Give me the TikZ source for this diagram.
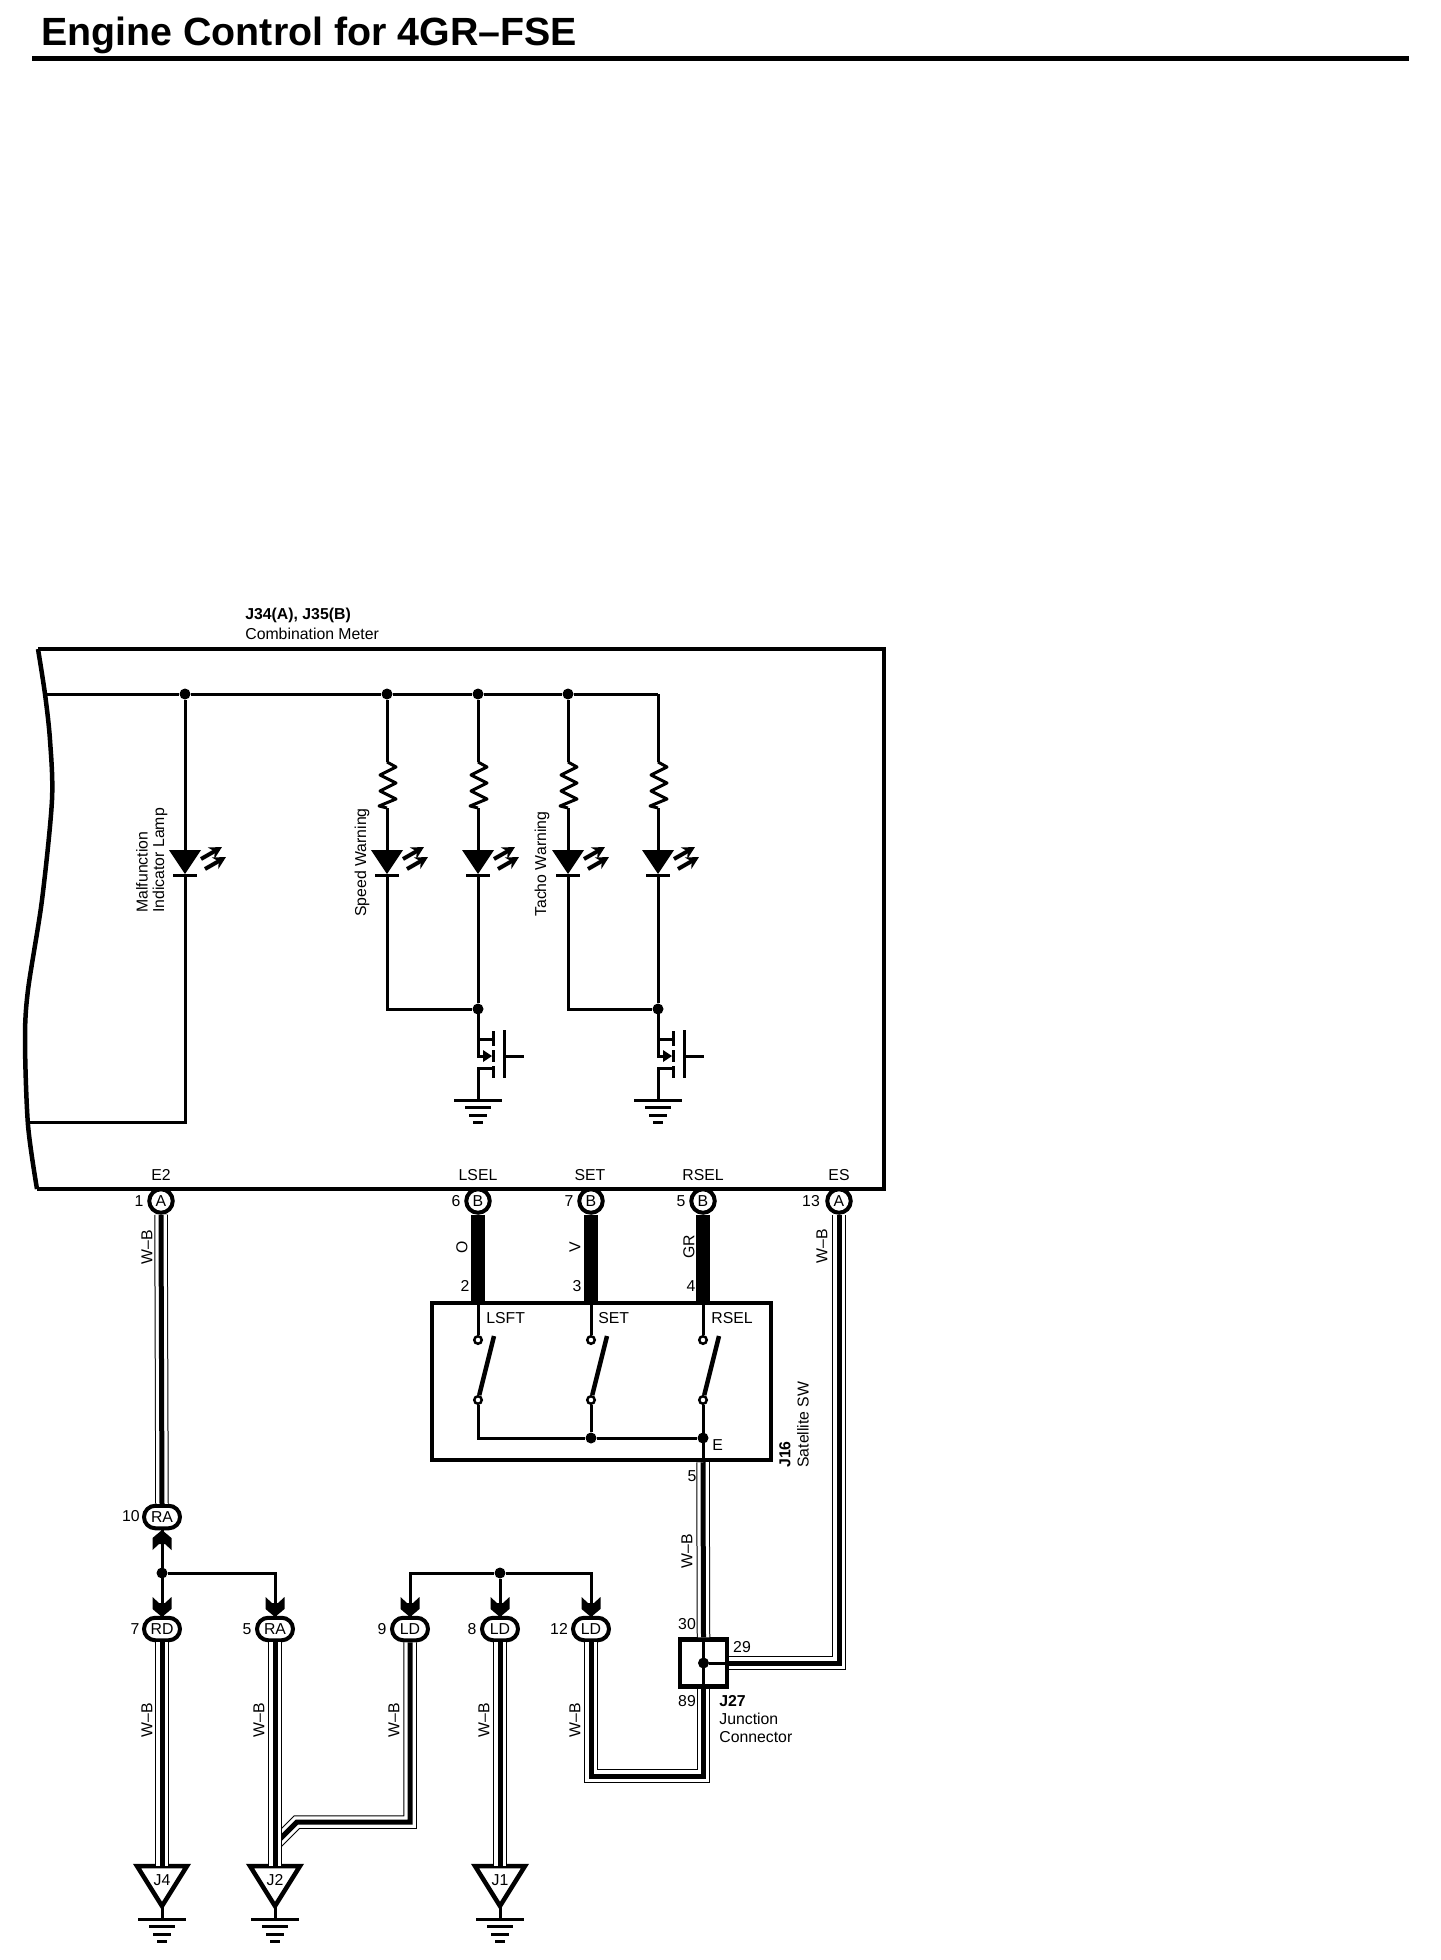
\documentclass[tikz,border=0pt]{standalone}
\usepackage{fontspec}
\setmainfont{Liberation Sans}
\usetikzlibrary{calc}
\usetikzlibrary{arrows.meta}
\usetikzlibrary{shapes.misc}

\tikzset{
    lbl/.style={font=\fontsize{9}{10}\selectfont, inner sep=0pt},
    blbl/.style={lbl, font=\fontsize{9}{10}\selectfont\bfseries},
    vlbl/.style={lbl, rotate=90},
    line/.style={line width=0.06cm},
    boxline/.style={line width=0.09cm},
    solidwire/.style={line width=0.28cm},
    wire/.style={line width=0.1cm,
        preaction={draw, line width=0.27cm, black},
        preaction={draw, line width=0.23cm, white}},
    dot/.style={circle, fill, inner sep=0pt, minimum size=0.22cm},
    term/.style={circle, draw, fill=white, line width=0.05cm, inner sep=0pt, minimum size=0.15cm},
    pinround/.style={lbl, circle, draw, line width=0.08cm, fill=white, minimum size=0.47cm},
    pinoval/.style={lbl, rounded rectangle, draw, line width=0.08cm, fill=white, minimum width=0.72cm, minimum height=0.45cm},
    led/.pic={
        \coordinate (-in) at (0, 0);
        \coordinate (-out) at (0, 25);
        \fill (-16, 0) -- (16, 0) -- (0, 24) -- cycle;
        \draw[line width=0.06cm] (-12, 25) -- (12, 25);
        \draw[line width=0.08cm, -{Stealth[length=0.25cm, width=0.26cm]}] (16, 9) -- (37, -3);
        \draw[line width=0.08cm, -{Stealth[length=0.25cm, width=0.26cm]}] (20, 19) -- (41, 7);
    },
    res/.pic={
        \coordinate (-in) at (0, 0);
        \coordinate (-out) at (0, 46);
        \draw[line, line join=round] (-in) -- (9, 5) -- (-7, 13) -- (9, 21) -- (-7, 29) -- (9, 37) -- (-8, 44) -- (-out);
    },
    fet/.pic={
        \coordinate (-in) at (0, 0);
        \coordinate (-out) at (0, 91);
        \draw[line] (-in) -- (0, 47) -- (8, 47);
        \draw[line] (0, 30) -- (15, 30);
        \draw[line] (15, 59) -- (0, 59) -- (-out);
        \fill (5, 41) -- (14, 47) -- (5, 53) -- cycle;
        \draw[line] (15, 22) -- (15, 37);
        \draw[line] (15, 41) -- (15, 53);
        \draw[line] (15, 57) -- (15, 69);
        \draw[line] (26, 21) -- (26, 69);
        \draw[line] (26, 47) -- (46, 47);
    },
    gnd/.pic={
        \draw[line width=0.06cm] (-24, 0) -- (24, 0);
        \draw[line width=0.06cm] (-13, 7.5) -- (13, 7.5);
        \draw[line width=0.06cm] (-9, 15) -- (9, 15);
        \draw[line width=0.06cm] (-5, 22.5) -- (5, 22.5);
    },
    chevron/.pic={
        \fill (0, 0) -- (9.5, -8) -- (9.5, -20) -- (3, -14) -- (-3, -14) -- (-9.5, -20) -- (-9.5, -8) -- cycle;
    },
    earth/.pic={
        \coordinate (-top) at (0, 0);
        \coordinate (-bot) at (0, 40);
        \draw[boxline] (-25, 0) -- (25, 0) -- (0, 40) -- cycle;
    },
}

\begin{document}
\begin{tikzpicture}[x=0.02cm, y=-0.02cm]

    \useasboundingbox (0, 0) rectangle (1440, 1960);

    % heading
    \node[anchor=base west, inner sep=0pt, font=\fontsize{22.4}{24}\selectfont\bfseries] (title) at (41, 46) {Engine Control for 4GR--FSE};
    \draw[line width=0.1cm] (32, 59) -- (1409, 59);

    % combination meter
    \draw[boxline] (38, 649) -- (884, 649) -- (884, 1189) -- (37, 1189);
    \draw[boxline] plot[smooth] coordinates {(37, 1189) (28, 1125) (25, 1040) (28, 990) (42, 900) (52, 800) (50, 740) (45, 694) (38, 649)};
    \node[blbl, anchor=west] (meterid) at (245, 615) {J34(A), J35(B)};
    \node[lbl, anchor=west] (metername) at (245, 634) {Combination Meter};

    \coordinate (busl) at (46, 694);
    \coordinate (busr) at (658, 694);
    \node[dot] (bus0) at (185, 694) {};
    \node[dot] (bus1) at (387, 694) {};
    \node[dot] (bus2) at (478, 694) {};
    \node[dot] (bus3) at (568, 694) {};
    \draw[line] (busl) -- (bus0) -- (bus1) -- (bus2) -- (bus3) -- (busr);

    \pic (led0) at (185, 850) {led};
    \coordinate (lamp) at (185, 1122);
    \coordinate (lampl) at (29, 1122);
    \draw[line] (bus0) -- (led0-in);
    \draw[line] (led0-out) -- (lamp) -- (lampl);

    \foreach \xx/\nn/\tt in {387/1/bus1, 478/2/bus2, 568/3/bus3, 658/4/busr} {
        \pic (res\nn) at (\xx, 762) {res};
        \pic (led\nn) at (\xx, 850) {led};
        \draw[line] (\tt) -- (res\nn-in);
        \draw[line] (res\nn-out) -- (led\nn-in);
    }

    \coordinate (tie1) at (387, 1009);
    \node[dot] (fet1top) at (478, 1009) {};
    \coordinate (tie2) at (568, 1009);
    \node[dot] (fet2top) at (658, 1009) {};
    \draw[line] (led1-out) -- (tie1) -- (fet1top);
    \draw[line] (led2-out) -- (fet1top);
    \draw[line] (led3-out) -- (tie2) -- (fet2top);
    \draw[line] (led4-out) -- (fet2top);

    \pic (fet1) at (478, 1009) {fet};
    \pic (fet2) at (658, 1009) {fet};
    \pic at (478, 1100) {gnd};
    \pic at (658, 1100) {gnd};

    \node[vlbl, anchor=west] (lamp1) at (142, 913) {Malfunction};
    \node[vlbl, anchor=west] (lamp2) at (160, 913) {Indicator Lamp};
    \node[vlbl, anchor=west] (speed) at (362, 917) {Speed Warning};
    \node[vlbl, anchor=west] (tacho) at (542, 917) {Tacho Warning};

    % connectors on the meter
    \node[lbl] (e2) at (161, 1175) {E2};
    \node[lbl] (lsel) at (478, 1175) {LSEL};
    \node[lbl] (set) at (590, 1175) {SET};
    \node[lbl] (rsel) at (703, 1175) {RSEL};
    \node[lbl] (es) at (839, 1175) {ES};

    \node[pinround] (pin1) at (161, 1201) {A};
    \node[pinround] (pin6) at (478, 1201) {B};
    \node[pinround] (pin7) at (591, 1201) {B};
    \node[pinround] (pin5) at (703, 1201) {B};
    \node[pinround] (pin13) at (839, 1201) {A};

    \node[lbl] (n1) at (139, 1201) {1};
    \node[lbl] (n6) at (456, 1201) {6};
    \node[lbl] (n7) at (569, 1201) {7};
    \node[lbl] (n5) at (681, 1201) {5};
    \node[lbl] (n13) at (811, 1201) {13};

    % satellite switch
    \node[draw, boxline, minimum width=6.78cm, minimum height=3.14cm, inner sep=0pt] (j16) at (601.5, 1381.5) {};
    \node[blbl, vlbl, font=\fontsize{9}{10}\selectfont\bfseries, anchor=west] (j16id) at (785, 1468) {J16};
    \node[vlbl, anchor=west] (j16name) at (803, 1468) {Satellite SW};

    \draw[solidwire] (pin6.south) -- (pin6.south |- j16.north);
    \draw[solidwire] (pin7.south) -- (pin7.south |- j16.north);
    \draw[solidwire] (pin5.south) -- (pin5.south |- j16.north);
    \node[vlbl] (co) at (462, 1247) {O};
    \node[vlbl] (cv) at (575, 1247) {V};
    \node[vlbl] (cgr) at (689, 1247) {GR};
    \node[lbl] (n2) at (465, 1286) {2};
    \node[lbl] (n3) at (577, 1286) {3};
    \node[lbl] (n4) at (691, 1286) {4};

    \node[lbl, anchor=west] (lsft) at (486, 1318) {LSFT};
    \node[lbl, anchor=west] (swset) at (598, 1318) {SET};
    \node[lbl, anchor=west] (swrsel) at (711, 1318) {RSEL};
    \node[lbl, anchor=west] (swe) at (712, 1445) {E};

    \node[dot] (gnd2) at (591, 1438) {};
    \node[dot] (gnd3) at (703, 1438) {};
    \coordinate (gnd1) at (478, 1438);
    \foreach \xx/\nn in {478/1, 591/2, 703/3} {
        \node[term] (sw\nn a) at (\xx, 1340) {};
        \node[term] (sw\nn b) at (\xx, 1400) {};
        \coordinate (sw\nn c) at (\xx + 16, 1336);
        \draw[line] (sw\nn a |- j16.north) -- (sw\nn a);
        \draw[boxline] (sw\nn b) -- (sw\nn c);
    }
    \draw[line] (sw1b) -- (gnd1) -- (gnd2) -- (gnd3);
    \draw[line] (sw2b) -- (gnd2);
    \draw[line] (sw3b) -- (gnd3 |- j16.south);

    % junction connector
    \node[draw, boxline, minimum size=0.94cm, inner sep=0pt] (j27) at (703.5, 1663) {};
    \node[dot] (j27c) at (703.5, 1663) {};
    \draw[line] (j27.north) -- (j27.south);
    \draw[line] (j27c) -- (j27.east);
    \node[lbl] (n30) at (687, 1624) {30};
    \node[lbl] (n29) at (742, 1647) {29};
    \node[lbl] (n89) at (687, 1701) {89};
    \node[blbl, anchor=west] (j27id) at (719, 1701) {J27};
    \node[lbl, anchor=west] (j27a) at (719, 1719) {Junction};
    \node[lbl, anchor=west] (j27b) at (719, 1737) {Connector};

    % in line connectors
    \node[pinoval] (ra10) at (162, 1517) {RA};
    \node[pinoval] (rd7) at (162, 1629) {RD};
    \node[pinoval] (ra5) at (275, 1629) {RA};
    \node[pinoval] (ld9) at (410, 1629) {LD};
    \node[pinoval] (ld8) at (500, 1629) {LD};
    \node[pinoval] (ld12) at (591, 1629) {LD};
    \node[lbl] (n10) at (131, 1516) {10};
    \node[lbl] (n7b) at (135, 1629) {7};
    \node[lbl] (n5b) at (247, 1629) {5};
    \node[lbl] (n9) at (382, 1629) {9};
    \node[lbl] (n8) at (472, 1629) {8};
    \node[lbl] (n12) at (559, 1629) {12};

    \pic[rotate=180] at (162, 1530) {chevron};
    \pic at (162, 1617) {chevron};
    \pic at (275, 1617) {chevron};
    \pic at (410, 1617) {chevron};
    \pic at (500, 1617) {chevron};
    \pic at (591, 1617) {chevron};

    \node[dot] (splice1) at (162, 1573) {};
    \node[dot] (splice2) at (500, 1573) {};
    \draw[line] (ra10.south) -- (rd7.north);
    \draw[line] (splice1) -| (ra5.north);
    \draw[line] (splice2) -- (ld8.north);
    \draw[line] (ld9.north) |- (splice2) -| (ld12.north);

    % earth points
    \pic (earth4) at (162, 1866) {earth};
    \pic (earth2) at (275, 1866) {earth};
    \pic (earth1) at (500, 1866) {earth};
    \node[lbl] (j4) at (162, 1880) {J4};
    \node[lbl] (j2) at (275, 1880) {J2};
    \node[lbl] (j1) at (500, 1880) {J1};
    \coordinate (stem4) at (162, 1919);
    \coordinate (stem2) at (275, 1919);
    \coordinate (stem1) at (500, 1919);
    \draw[line] (earth4-bot) -- (stem4);
    \draw[line] (earth2-bot) -- (stem2);
    \draw[line] (earth1-bot) -- (stem1);
    \pic at (stem4) {gnd};
    \pic at (stem2) {gnd};
    \pic at (stem1) {gnd};

    % W-B wires
    \coordinate (branch1) at (275, 1844);
    \coordinate (branch2) at (297, 1822);
    \coordinate (rbend) at (591, 1776);
    \draw[wire] (branch1) -- (branch2) -| (ld9.south);
    \draw[wire] (pin1.south) -- (ra10.north);
    \draw[wire] (rd7.south) -- (earth4-top);
    \draw[wire] (ra5.south) -- (earth2-top);
    \draw[wire] (ld8.south) -- (earth1-top);
    \draw[wire] (gnd3 |- j16.south) -- (j27.north);
    \draw[wire] (j27.east) -| (pin13.south);
    \draw[wire] (j27.south) |- (rbend) -- (ld12.south);

    \node[vlbl] (wb1) at (147, 1247) {W--B};
    \node[vlbl] (wb2) at (822, 1246) {W--B};
    \node[vlbl] (wb3) at (687, 1551) {W--B};
    \node[vlbl] (wb4) at (147, 1720) {W--B};
    \node[vlbl] (wb5) at (259, 1720) {W--B};
    \node[vlbl] (wb6) at (394, 1720) {W--B};
    \node[vlbl] (wb7) at (484, 1720) {W--B};
    \node[vlbl] (wb8) at (575, 1720) {W--B};
    \node[lbl] (n5c) at (692, 1476) {5};

\end{tikzpicture}
\end{document}
